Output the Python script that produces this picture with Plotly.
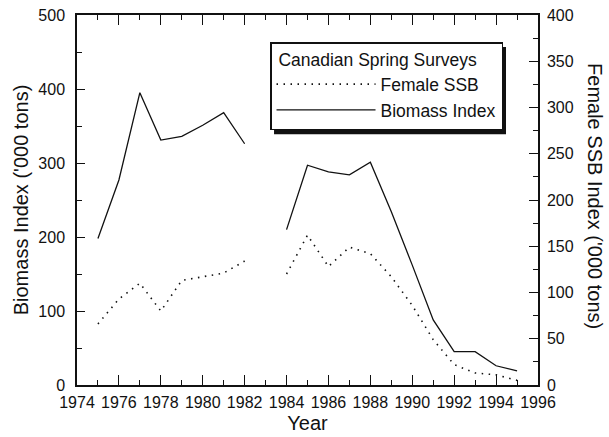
import plotly.graph_objects as go

years = list(range(1975, 1996))
biomass_index = [198, 277, 395, 331, 336, 351, 368, 326, None, 210, 297, 288, 284, 301,
                 234, 162, 88, 45, 45, 26, 19]
female_ssb = [66, 93, 110, 80, 113, 117, 121, 134, None, 120, 162, 128, 149, 142,
              117, 86, 49, 22, 13, 11, 5]

x_ticks = list(range(1974, 1997, 2))
font_family = "Liberation Sans, Arial, sans-serif"
ink = "#111111"

fig = go.Figure()
fig.add_trace(go.Scatter(
    x=years, y=female_ssb, name="Female SSB", yaxis="y2", mode="lines",
    line=dict(color=ink, width=1.6, dash="1.5px,5.5px"), connectgaps=False))
fig.add_trace(go.Scatter(
    x=years, y=biomass_index, name="Biomass Index", yaxis="y", mode="lines",
    line=dict(color=ink, width=1.3), connectgaps=False))

axis_common = dict(showgrid=False, zeroline=False, showline=True, linecolor=ink,
                   linewidth=1.5, ticks="inside", tickcolor=ink, automargin=False,
                   tickfont=dict(family=font_family, size=16, color=ink))

fig.update_layout(
    width=609, height=437,
    margin=dict(l=77, r=71, t=15, b=52),
    paper_bgcolor="white", plot_bgcolor="white",
    font=dict(family=font_family, color=ink),
    xaxis=dict(range=[1974, 1996], tickvals=x_ticks, ticklen=10, tickwidth=1.3,
               mirror="ticks",
               minor=dict(dtick=1, tick0=1974, ticklen=5, ticks="inside", tickcolor=ink),
               title=dict(text="Year", font=dict(size=20), standoff=6),
               ticklabelstandoff=2,
               **axis_common),
    yaxis=dict(range=[0, 500], dtick=100, ticklen=8, tickwidth=1.3,
               minor=dict(dtick=50, ticklen=5, ticks="inside", tickcolor=ink),
               title=dict(text="Biomass Index ('000 tons)", font=dict(size=20), standoff=4),
               ticklabelstandoff=7,
               **axis_common),
    yaxis2=dict(range=[0, 400], dtick=50, ticklen=9, tickwidth=1.3, side="right",
                overlaying="y",
                minor=dict(dtick=25, ticklen=5, ticks="inside", tickcolor=ink),
                ticklabelstandoff=4,
                **axis_common),
    showlegend=True,
    legend=dict(x=0.4187, y=0.927, xanchor="left", yanchor="top",
                bgcolor="white", bordercolor=ink, borderwidth=1.5,
                title=dict(text="\u00a0Canadian Spring Surveys",
                           font=dict(size=17.5), side="top"),
                font=dict(size=17.5, color=ink), itemwidth=99, tracegroupgap=0),
    annotations=[dict(text="Female SSB Index ('000 tons)", textangle=90,
                      xref="paper", yref="paper", x=1.122, y=0.51,
                      xanchor="center", yanchor="middle", showarrow=False,
                      font=dict(size=20, color=ink, family=font_family))],
    shapes=[dict(type="rect", xref="paper", yref="paper", layer="above",
                 x0=0.4274, x1=0.9306, y0=0.678, y1=0.9135,
                 fillcolor=ink, line=dict(width=0))],
)

fig.write_html("out.html", config={"displayModeBar": False},
               post_script="document.body.style.margin='0';document.body.style.overflow='hidden';")
